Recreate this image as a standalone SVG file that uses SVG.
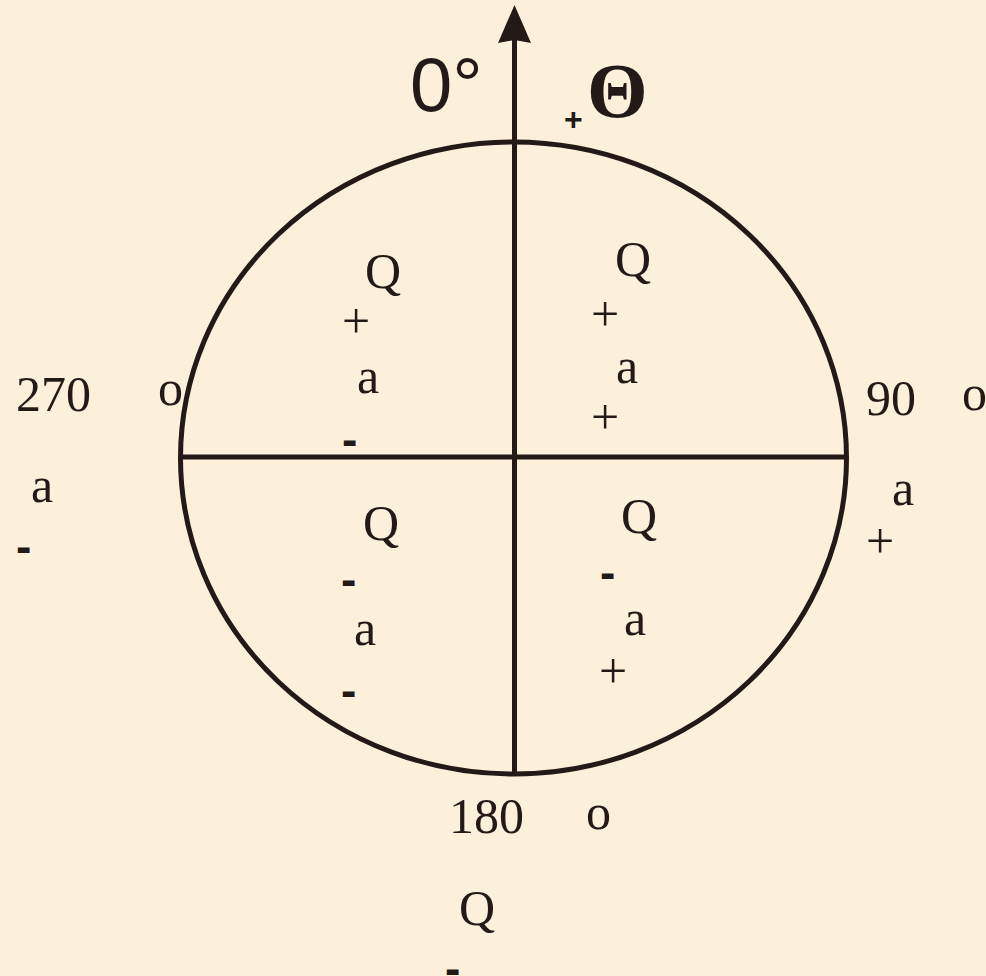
<svg xmlns="http://www.w3.org/2000/svg" width="986" height="976" viewBox="0 0 986 976">
<defs>
<style>
.t{font-family:"Liberation Serif","Times New Roman",serif;font-size:50px;fill:#231a17}
.d{font-family:"Liberation Sans",Arial,sans-serif;font-weight:bold;font-size:46px;fill:#231a17}
.ln{stroke:#231a17;stroke-width:5;fill:none}
</style>
</defs>
<rect width="986" height="976" fill="#fcf0db"/>
<g id="circle">
<ellipse class="ln" cx="513.5" cy="458" rx="333" ry="316"/>
</g>
<g id="axes">
<line class="ln" x1="180" y1="457" x2="847" y2="457"/>
<line class="ln" x1="514.5" y1="774" x2="514.5" y2="38"/>
<polygon points="514.5,5 531,43 514.5,40 498,43" fill="#231a17"/>
</g>
<g id="top-labels">
<text x="410" y="111" font-family="Liberation Sans,Arial,sans-serif" font-size="76" fill="#231a17">0°</text>
<text x="564" y="130" font-family="Liberation Sans,Arial,sans-serif" font-weight="bold" font-size="32" fill="#231a17">+</text>
<text x="587" y="117" font-family="Liberation Serif,Times New Roman,serif" font-weight="bold" font-size="78" fill="#231a17">Θ</text>
</g>
<g id="q-top-left">
<text class="t" x="365" y="288">Q</text>
<text class="t" x="342" y="338">+</text>
<text class="t" x="357" y="393">a</text>
<text class="d" x="342" y="455">-</text>
</g>
<g id="q-top-right">
<text class="t" x="615" y="276">Q</text>
<text class="t" x="591" y="331">+</text>
<text class="t" x="616" y="383">a</text>
<text class="t" x="591" y="434">+</text>
</g>
<g id="q-bottom-left">
<text class="t" x="363" y="540">Q</text>
<text class="d" x="341" y="595">-</text>
<text class="t" x="354" y="645">a</text>
<text class="d" x="341" y="706">-</text>
</g>
<g id="q-bottom-right">
<text class="t" x="621" y="533">Q</text>
<text class="d" x="600" y="588">-</text>
<text class="t" x="624" y="635">a</text>
<text class="t" x="599" y="688">+</text>
</g>
<g id="label-270">
<text class="t" x="16" y="411">270</text>
<text class="t" x="158" y="405">o</text>
<text class="t" x="31" y="502">a</text>
<text class="d" x="16" y="562">-</text>
</g>
<g id="label-90">
<text class="t" x="866" y="415">90</text>
<text class="t" x="962" y="410">o</text>
<text class="t" x="892" y="505">a</text>
<text class="t" x="866" y="558">+</text>
</g>
<g id="label-180">
<text class="t" x="449" y="833">180</text>
<text class="t" x="586" y="829">o</text>
<text class="t" x="459" y="925">Q</text>
<text class="d" x="445" y="984">-</text>
</g>
</svg>
